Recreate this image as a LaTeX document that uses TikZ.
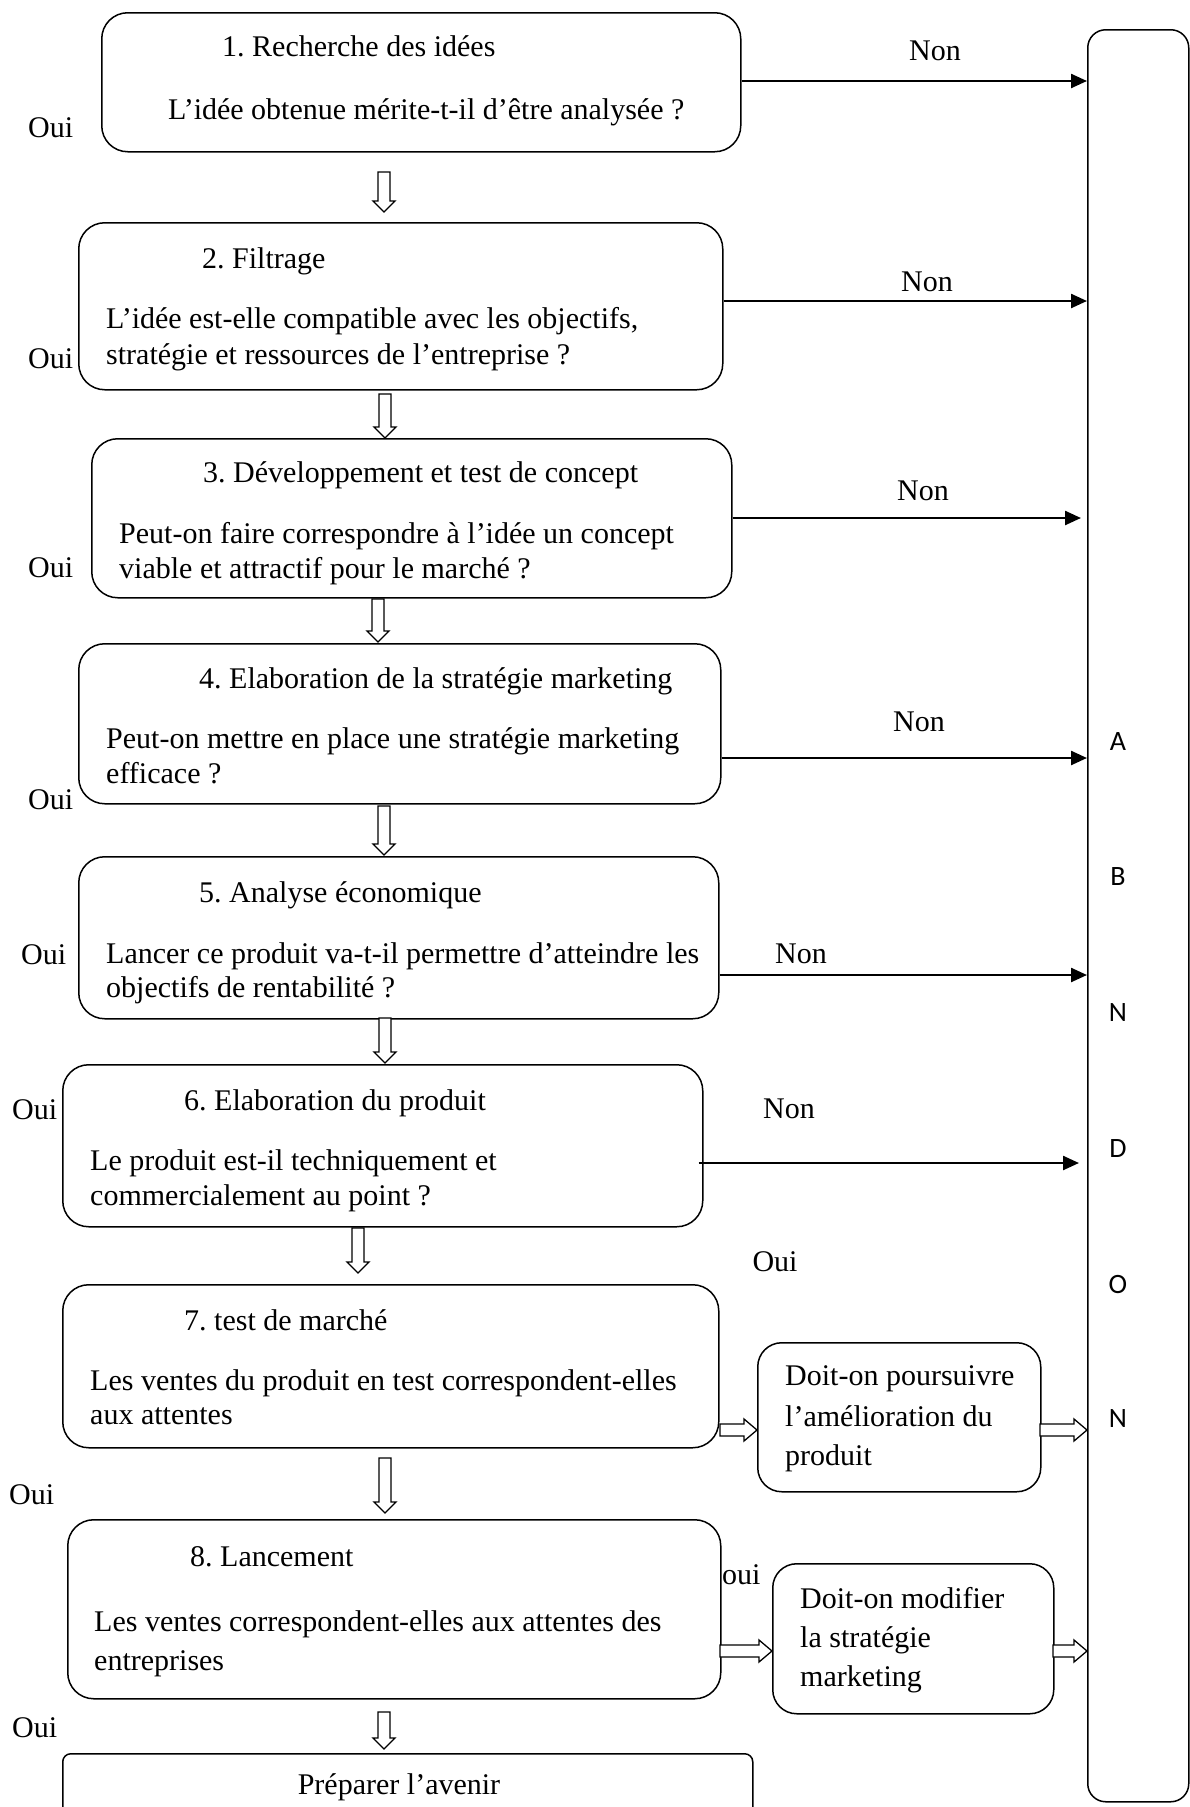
\documentclass[tikz,border=0pt]{standalone}
\usepackage{fontspec}
\setmainfont{Liberation Serif}
\newfontfamily\abfont{Carlito}
\usetikzlibrary{arrows.meta,calc}
\frenchspacing
\newcommand\hdown[3]{% x, ytop, ybot
  \draw[hollow] (#1-6,#2) -- (#1+6,#2) -- (#1+6,#3-11) -- (#1+11,#3-11) -- (#1,#3) -- (#1-11,#3-11) -- (#1-6,#3-11) -- cycle;}
\newcommand\hright[3]{% y, xleft, xright
  \draw[hollow] (#2,#1-6) -- (#3-13,#1-6) -- (#3-13,#1-11) -- (#3,#1) -- (#3-13,#1+11) -- (#3-13,#1+6) -- (#2,#1+6) -- cycle;}
\begin{document}
\frenchspacing
\begin{tikzpicture}[x=1pt,y=-1pt,
  box/.style={draw, line width=1.5pt, rounded corners=26pt, inner sep=0pt, anchor=north west},
  txt/.style={anchor=mid west, inner sep=0pt, yshift=-8pt, font=\fontsize{30}{35}\selectfont},
  ctxt/.style={anchor=mid, inner sep=0pt, yshift=-8pt, font=\fontsize{30}{35}\selectfont},
  non/.style={line width=2.4pt, -{Triangle[length=16pt,width=14pt]}},
  hollow/.style={draw, line width=1.3pt, fill=white, line join=miter},
  letter/.style={font=\abfont\fontsize{28}{30}\selectfont, inner sep=0pt, anchor=mid, yshift=-6pt}]
\useasboundingbox (0,0) rectangle (1190,1807);

% right box
\node[box, rounded corners=18pt] (ab) at (1087,29) [minimum width=101pt, minimum height=1772pt] {};
\node[letter] (lA) at (1118,742) {A};
\node[letter] (lB) at (1118,877) {B};
\node[letter] (lN) at (1118,1013) {N};
\node[letter] (lD) at (1118,1149) {D};
\node[letter] (lO) at (1118,1285) {O};
\node[letter] (lN2) at (1118,1419) {N};

% box 1
\node[box, minimum width=639pt, minimum height=139pt] (b1) at (101,12) {};
\node[txt] (t1a) at (222,46) {1. Recherche des idées};
\node[txt] (t1b) at (168,109) {L’idée obtenue mérite-t-il d’être analysée ?};
\node[txt] (o1) at (28,127) {Oui};
\node[ctxt] (n1) at (935,50) {Non};
\draw[non] (b1.east |- 0,81) -- (ab.west |- 0,81);
\hdown{384}{172}{212}

% box 2
\node[box, minimum width=644pt, minimum height=167pt] (b2) at (78,222) {};
\node[txt] (t2a) at (202,258) {2. Filtrage};
\node[txt] (t2b) at (106,318) {L’idée est-elle compatible avec les objectifs,};
\node[txt] (t2c) at (106,354) {stratégie et ressources de l’entreprise ?};
\node[txt] (o2) at (28,358) {Oui};
\node[ctxt] (n2) at (927,281) {Non};
\draw[non] (b2.east |- 0,301) -- (ab.west |- 0,301);
\hdown{385}{394}{438}

% box 3
\node[box, minimum width=640pt, minimum height=159pt] (b3) at (91,438) {};
\node[txt] (t3a) at (203,472) {3. Développement et test de concept};
\node[txt] (t3b) at (119,533) {Peut-on faire correspondre à l’idée un concept};
\node[txt] (t3c) at (119,568) {viable et attractif pour le marché ?};
\node[txt] (o3) at (28,567) {Oui};
\node[ctxt] (n3) at (923,490) {Non};
\draw[non] (b3.east |- 0,518) -- ([xshift=-6pt]ab.west |- 0,518);
\hdown{378}{599}{642}

% box 4
\node[box, minimum width=642pt, minimum height=160pt] (b4) at (78,643) {};
\node[txt] (t4a) at (199,678) {4. Elaboration de la stratégie marketing};
\node[txt] (t4b) at (106,738) {Peut-on mettre en place une stratégie marketing};
\node[txt] (t4c) at (106,773) {efficace ?};
\node[txt] (o4) at (28,799) {Oui};
\node[ctxt] (n4) at (919,721) {Non};
\draw[non] (b4.east |- 0,758) -- (ab.west |- 0,758);
\hdown{384}{806}{855}

% box 5
\node[box, minimum width=640pt, minimum height=162pt] (b5) at (78,856) {};
\node[txt] (t5a) at (199,892) {5. Analyse économique};
\node[txt] (t5b) at (106,953) {Lancer ce produit va-t-il permettre d’atteindre les};
\node[txt] (t5c) at (106,987) {objectifs de rentabilité ?};
\node[txt] (o5) at (21,954) {Oui};
\node[ctxt] (n5) at (801,953) {Non};
\draw[non] (b5.east |- 0,975) -- (ab.west |- 0,975);
\hdown{385}{1018}{1063}

% box 6
\node[box, minimum width=640pt, minimum height=162pt] (b6) at (62,1064) {};
\node[txt] (t6a) at (184,1100) {6. Elaboration du produit};
\node[txt] (t6b) at (90,1160) {Le produit est-il techniquement et};
\node[txt] (t6c) at (90,1195) {commercialement au point ?};
\node[txt] (o6) at (12,1109) {Oui};
\node[ctxt] (n6) at (789,1108) {Non};
\draw[non] ([xshift=-5pt]b6.east |- 0,1163) -- ([xshift=-8pt]ab.west |- 0,1163);
\node[ctxt] (o6b) at (775,1261) {Oui};
\hdown{358}{1228}{1273}

% box 7
\node[box, minimum width=656pt, minimum height=163pt] (b7) at (62,1284) {};
\node[txt] (t7a) at (184,1320) {7. test de marché};
\node[txt] (t7b) at (90,1380) {Les ventes du produit en test correspondent-elles};
\node[txt] (t7c) at (90,1414) {aux attentes};
\node[box, rounded corners=24pt, minimum width=283pt, minimum height=149pt] (b7b) at (757,1342) {};
\node[txt] (t7d) at (785,1375) {Doit-on poursuivre};
\node[txt] (t7e) at (785,1416) {l’amélioration du};
\node[txt] (t7f) at (785,1455) {produit};
\hright{1430}{720}{757}
\hright{1430}{1040}{1087}
\hdown{385}{1458}{1513}
\node[txt] (o7) at (9,1494) {Oui};

% box 8
\node[box, minimum width=653pt, minimum height=179pt] (b8) at (67,1519) {};
\node[txt] (t8a) at (190,1556) {8. Lancement};
\node[txt] (t8b) at (94,1621) {Les ventes correspondent-elles aux attentes des};
\node[txt] (t8c) at (94,1660) {entreprises};
\node[txt] (o8r) at (722,1574) {oui};
\node[box, rounded corners=24pt, minimum width=281pt, minimum height=150pt] (b8b) at (772,1563) {};
\node[txt] (t8d) at (800,1598) {Doit-on modifier};
\node[txt] (t8e) at (800,1637) {la stratégie};
\node[txt] (t8f) at (800,1676) {marketing};
\hright{1651}{720}{772}
\hright{1651}{1053}{1087}
\hdown{384}{1712}{1749}
\node[txt] (o8) at (12,1727) {Oui};

% box 9
\node[box, rounded corners=8pt, minimum width=690pt, minimum height=100pt] (b9) at (62,1753) {};
\node[ctxt] (t9) at (399,1784) {Préparer l’avenir};
\end{tikzpicture}
\end{document}
